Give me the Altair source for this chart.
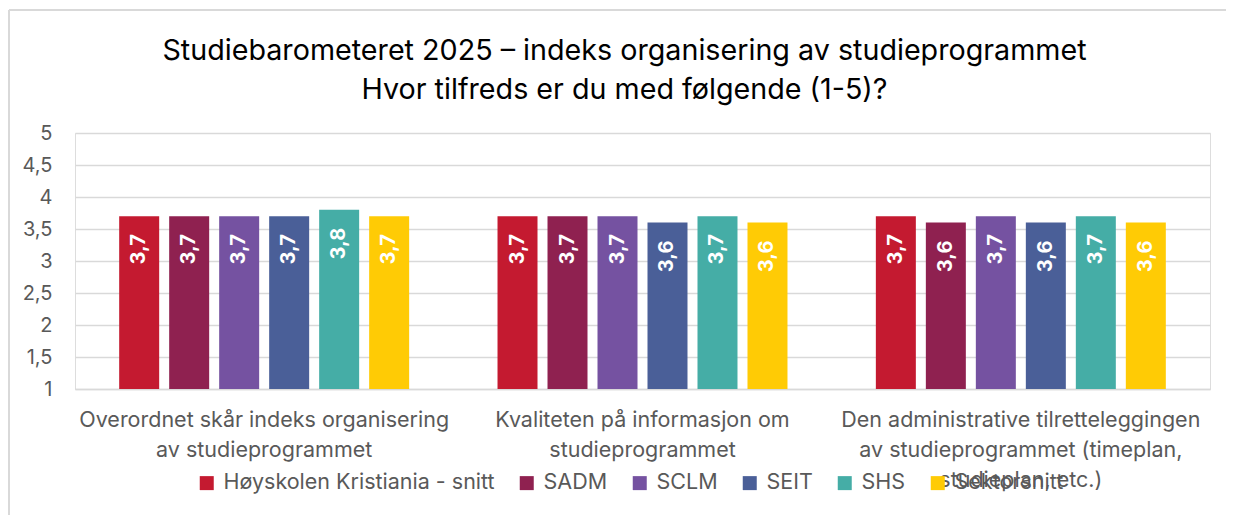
import altair as alt
import pandas as pd

categories = [
    "Overordnet skår indeks organisering av studieprogrammet",
    "Kvaliteten på informasjon om studieprogrammet",
    "Den administrative tilretteleggingen av studieprogrammet (timeplan, studieplan, etc.)",
]
category_lines = [
    ["Overordnet skår indeks organisering", "av studieprogrammet"],
    ["Kvaliteten på informasjon om", "studieprogrammet"],
    ["Den administrative tilretteleggingen", "av studieprogrammet (timeplan,", "studieplan, etc.)"],
]
series = ["Høyskolen Kristiania - snitt", "SADM", "SCLM", "SEIT", "SHS", "Sektorsnitt"]
colors = ["#C41A30", "#8F2150", "#7552A1", "#4A5F98", "#45ADA6", "#FFCB05"]
values = {
    "Høyskolen Kristiania - snitt": [3.7, 3.7, 3.7],
    "SADM": [3.7, 3.7, 3.6],
    "SCLM": [3.7, 3.7, 3.7],
    "SEIT": [3.7, 3.6, 3.6],
    "SHS": [3.8, 3.7, 3.7],
    "Sektorsnitt": [3.7, 3.6, 3.6],
}
y_ticks = [1, 1.5, 2, 2.5, 3, 3.5, 4, 4.5, 5]

rows = []
for s in series:
    for c, v in zip(categories, values[s]):
        rows.append({"kategori": c, "serie": s, "verdi": v})
df = pd.DataFrame(rows)

FONT = "Inter"
GRAY = "#595959"
GRID = "#D9D9D9"

label_map = "{" + ", ".join(
    "'" + c.replace("'", "\\'") + "': [" + ", ".join("'" + l + "'" for l in lines) + "]"
    for c, lines in zip(categories, category_lines)
) + "}"

x_enc = alt.X(
    "kategori:N",
    sort=categories,
    scale=alt.Scale(paddingInner=0.2, paddingOuter=0.1),
    axis=alt.Axis(
        title=None,
        labelAngle=0,
        labelExpr=label_map + "[datum.label]",
        labelFont=FONT,
        labelFontSize=21.5,
        labelColor=GRAY,
        labelLineHeight=30,
        labelPadding=20,
        labelLimit=0,
        ticks=False,
        domainColor=GRID,
        domainWidth=1.5,
        grid=False,
    ),
)
xoff = alt.XOffset(
    "serie:N",
    sort=series,
    scale=alt.Scale(paddingInner=0.2, paddingOuter=0.127),
)
y_enc = alt.Y(
    "verdi:Q",
    scale=alt.Scale(domain=[1, 5], zero=False, nice=False),
    axis=alt.Axis(
        title=None,
        values=y_ticks,
        format=".1~f",
        labelExpr="replace(datum.label, '.', ',')",
        labelFont=FONT,
        labelFontSize=20,
        labelColor=GRAY,
        labelPadding=23,
        labelOverlap=False,
        ticks=False,
        domain=False,
        gridColor=GRID,
        gridWidth=1.5,
    ),
)

bars = alt.Chart(df).mark_bar().encode(
    x=x_enc,
    xOffset=xoff,
    y=y_enc,
    y2=alt.datum(1),
    color=alt.Color(
        "serie:N",
        sort=series,
        scale=alt.Scale(domain=series, range=colors),
        legend=alt.Legend(
            title=None,
            orient="none",
            direction="horizontal",
            legendX=121,
            legendY=339,
            symbolType="square",
            symbolSize=196,
            symbolStrokeWidth=0,
            symbolOpacity=1,
            labelFont=FONT,
            labelFontSize=21.5,
            labelColor=GRAY,
            labelOffset=6,
            columnPadding=21,
            labelLimit=0,
        ),
    ),
)

labels = alt.Chart(df).transform_calculate(
    txt="replace(format(datum.verdi, '.1f'), '.', ',')"
).mark_text(
    angle=270,
    align="right",
    baseline="middle",
    dx=-18,
    color="white",
    font=FONT,
    fontWeight="bold",
    fontSize=20,
).encode(
    x=x_enc,
    xOffset=xoff,
    y=y_enc,
    text="txt:N",
)

frame_df = pd.DataFrame({"a": [0]})
frame_left = alt.Chart(frame_df).mark_rule(color=GRID, strokeWidth=2).encode(
    x=alt.value(-66), y=alt.value(-123), y2=alt.value(420)
)
frame_top = alt.Chart(frame_df).mark_rule(color=GRID, strokeWidth=2).encode(
    x=alt.value(-66), x2=alt.value(1170), y=alt.value(-123)
)

chart = alt.layer(bars, labels, frame_left, frame_top).properties(
    width=1135,
    height=256,
    padding={"left": 67, "top": 125, "right": 16, "bottom": 126},
    autosize=alt.AutoSizeParams(type="none"),
    title=alt.Title(
        ["Studiebarometeret 2025 – indeks organisering av studieprogrammet",
         "Hvor tilfreds er du med følgende (1-5)?"],
        font=FONT,
        fontSize=28.7,
        fontWeight="normal",
        color="black",
        lineHeight=39,
        anchor="middle",
        frame="group",
        offset=-96,
        dx=-18,
    ),
).configure_view(stroke=None).configure(background="white")

chart.save("out.html", embed_options={"renderer": "svg", "actions": False})
